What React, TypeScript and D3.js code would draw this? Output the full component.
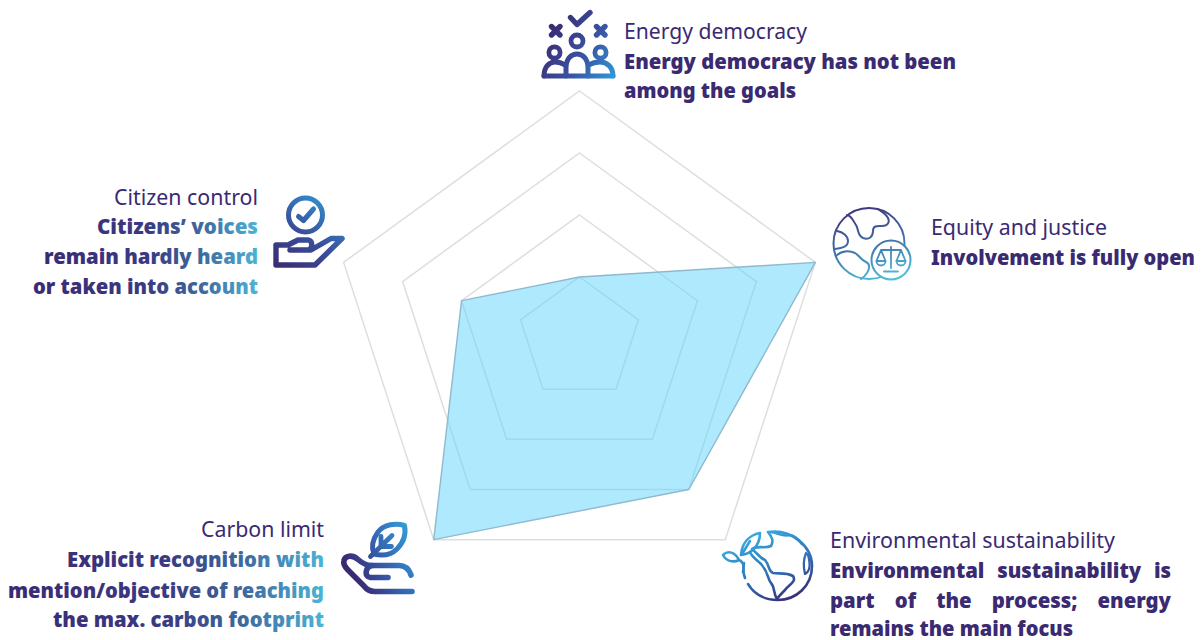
import React from "react";
import * as d3 from "d3";

const axes = [
  "Energy democracy",
  "Equity and justice",
  "Environmental sustainability",
  "Carbon limit",
  "Citizen control",
];
const scores = [1, 4, 3, 4, 2];
const levels = [1, 2, 3, 4];

const WIDTH = 1201;
const HEIGHT = 640;
const CX = 579.5;
const CY = 339;
const INK = "#3a2a72";

const radius = d3.scaleLinear().domain([0, 4]).range([0, 248]);
const angle = d3
  .scalePoint<string>()
  .domain(axes)
  .range([0, (2 * Math.PI * 4) / 5]);

const radar = d3
  .lineRadial<[string, number]>()
  .angle((d) => angle(d[0]) as number)
  .radius((d) => radius(d[1]))
  .curve(d3.curveLinearClosed);

type Line = { text: string; x: number; y: number; width: number; justify?: boolean };

const headings: Line[] = [
  { text: "Energy democracy", x: 624, y: 39, width: 183 },
  { text: "Equity and justice", x: 931, y: 235, width: 176 },
  { text: "Environmental sustainability", x: 830, y: 548, width: 285 },
];
const leftHeadings: Line[] = [
  { text: "Citizen control", x: 258, y: 205, width: 144 },
  { text: "Carbon limit", x: 324, y: 537, width: 123 },
];
const notes: Line[] = [
  { text: "Energy democracy has not been", x: 624, y: 69, width: 332 },
  { text: "among the goals", x: 624, y: 98, width: 172 },
  { text: "Involvement is fully open", x: 931, y: 265, width: 264 },
  { text: "Environmental sustainability is", x: 830, y: 578, width: 341, justify: true },
  { text: "part of the process; energy", x: 830, y: 608, width: 341, justify: true },
  { text: "remains the main focus", x: 830, y: 636, width: 243 },
];
const citizenNotes: Line[] = [
  { text: "Citizens’ voices", x: 258, y: 234, width: 161 },
  { text: "remain hardly heard", x: 258, y: 264, width: 214 },
  { text: "or taken into account", x: 258, y: 294, width: 225 },
];
const carbonNotes: Line[] = [
  { text: "Explicit recognition with", x: 324, y: 567, width: 257 },
  { text: "mention/objective of reaching", x: 324, y: 598, width: 316 },
  { text: "the max. carbon footprint", x: 324, y: 627, width: 271 },
];

const textStops = [
  { offset: "0%", color: "#3a2a72" },
  { offset: "50%", color: "#393a82" },
  { offset: "75%", color: "#3e6a9e" },
  { offset: "100%", color: "#4cb4d6" },
];

type Stop = { offset: string; color: string };

function Gradient(props: { id: string; x1: number; y1: number; x2: number; y2: number; stops?: Stop[] }) {
  const { id, x1, y1, x2, y2, stops = textStops } = props;
  return (
    <linearGradient id={id} gradientUnits="userSpaceOnUse" x1={x1} y1={y1} x2={x2} y2={y2}>
      {stops.map((s) => (
        <stop key={s.offset} offset={s.offset} stopColor={s.color} />
      ))}
    </linearGradient>
  );
}

const bodyFont = "'Noto Sans', Lato, sans-serif";
const HEADING_SIZE = 22;
const NOTE_SIZE = 21.5;
const JUSTIFY_SQUEEZE = 0.945;

function Heading({ line, anchor }: { line: Line; anchor: "start" | "end" }) {
  return (
    <text
      x={line.x}
      y={line.y}
      fontFamily={bodyFont}
      fontSize={HEADING_SIZE}
      fontWeight={400}
      fill={INK}
      textAnchor={anchor}
      textLength={line.width}
      lengthAdjust="spacingAndGlyphs"
    >
      {line.text}
    </text>
  );
}

function Note({ line, fill, anchor }: { line: Line; fill: string; anchor: "start" | "end" }) {
  return (
    <text
      x={line.x}
      y={line.y}
      fontFamily={bodyFont}
      fontSize={NOTE_SIZE}
      fontWeight={900}
      fill={fill}
      textAnchor={anchor}
      textLength={line.width}
      lengthAdjust="spacingAndGlyphs"
    >
      {line.text}
    </text>
  );
}

// A justified row: glyphs are narrowed slightly and the gaps between words
// stretch so the row fills its measure.
function JustifiedNote({ line, fill }: { line: Line; fill: string }) {
  const ref = React.useRef<SVGTextElement>(null);
  React.useLayoutEffect(() => {
    const node = ref.current;
    if (!node) return;
    node.removeAttribute("word-spacing");
    const natural = node.getComputedTextLength();
    const gaps = line.text.split(" ").length - 1;
    node.setAttribute("word-spacing", String((line.width / JUSTIFY_SQUEEZE - natural) / gaps));
  }, [line]);
  return (
    <text
      ref={ref}
      transform={`translate(${line.x},${line.y}) scale(${JUSTIFY_SQUEEZE},1)`}
      fontFamily={bodyFont}
      fontSize={NOTE_SIZE}
      fontWeight={900}
      fill={fill}
    >
      {line.text}
    </text>
  );
}

function DemocracyIcon() {
  return (
    <g fill="none" stroke="url(#iconDemocracy)" strokeWidth={5} strokeLinecap="round" strokeLinejoin="round">
      <path d="M570.5 17.5L577 24.5L590 12.5" strokeWidth={5.4} />
      <path d="M551.5 26.5L560 35M560 26.5L551.5 35" strokeWidth={5.4} />
      <path d="M596.5 26.5L605 35M605 26.5L596.5 35" strokeWidth={5.4} />
      <circle cx={577} cy={41} r={6} strokeWidth={4.8} />
      <circle cx={554.5} cy={52.5} r={5.6} strokeWidth={4.8} />
      <circle cx={600.5} cy={52.5} r={5.6} strokeWidth={4.8} />
      <path d="M544 76H613" />
      <path d="M544 76C544 67 549 62 555 62C559 62 562 63 565 65" />
      <path d="M613 76C613 67 607 62 600 62C596 62 592 63 589 65" />
      <path d="M566 76V68C566 59 571 54 577 54C583 54 588 59 588 68V76" />
    </g>
  );
}

function CitizenIcon() {
  return (
    <g fill="none" stroke="url(#iconCitizen)" strokeLinecap="round" strokeLinejoin="round">
      <circle cx={305.5} cy={215} r={17} strokeWidth={5} />
      <path d="M298.5 216.5L303.5 220.5L313.5 209" strokeWidth={5} />
      <path
        d="M276 245V265H315L342 238.5H331L311 250H290M276 245H288L298 240H308C313 240 313 249 308 250"
        strokeWidth={5.4}
      />
    </g>
  );
}

function CarbonIcon() {
  return (
    <g fill="none" stroke="url(#iconCarbon)" strokeLinecap="round" strokeLinejoin="round">
      <path
        d="M404.5 525.5C396 523 384 524 378 532C373 539 371 547 374 554C382 556 391 555 397 549C405 541 406 533 404.5 525.5Z"
        strokeWidth={5}
      />
      <path d="M370.5 556.5L392 535.5M381 546V536.5M381 546.5H391.5" strokeWidth={4.8} />
      <path
        d="M411 575C409 569 405 565.5 399 565.5H372C366 565.5 362 563 358 559.5C352 554 345 556 344 560.5C343 564 345 567 348 570L364 586C367 590 370 591.5 375 591.5H412"
        strokeWidth={5.6}
      />
      <path d="M372 565.5C365 567 364 577 370.5 577.5H388" strokeWidth={5.6} />
    </g>
  );
}

function EquityIcon() {
  return (
    <g fill="none" stroke="url(#iconEquity)" strokeWidth={2} strokeLinecap="round" strokeLinejoin="round">
      <circle cx={869} cy={243.5} r={35.5} />
      <path d="M847 215C852 216 853 221 856 225C859 230 857 235 863 238C869 240 873 237 873 231C873 225 878 226 882 226C888 226 890 222 888 218C886 214 882 212 878 209" />
      <path d="M837 231C843 232 848 236 848 241C848 247 842 248 835 249" />
      <path d="M836 256C841 251 849 250 855 253C860 256 861 260 866 262C871 264 869 270 867 273C865 276 863 278 861 279" />
      <circle cx={891} cy={260} r={19.5} fill="#fff" />
      <path d="M891 247V268M884 271.5H898M881 250H901M881 250L876.5 261H885.5ZM901 250L896.5 261H905.5Z" strokeWidth={1.8} />
      <path d="M876.5 261C876.5 267 885.5 267 885.5 261M896.5 261C896.5 267 905.5 267 905.5 261" strokeWidth={1.8} />
    </g>
  );
}

function SustainabilityIcon() {
  return (
    <g fill="none" stroke="url(#iconSustain)" strokeWidth={2.6} strokeLinecap="round" strokeLinejoin="round">
      <path d="M769 532C791 529 812 546 812 566C812 586 796 600 778 600C765 600 754 594 748 584" />
      <path d="M745 578C743 573 743 568 744 563" />
      <path d="M760 533C750 535 742 542 741 555C750 554 760 547 760 533Z" />
      <path d="M723 555C728 550 735 552 739 560C733 563 726 561 723 555Z" />
      <path d="M739 560C744 562 744 568 743 572M742 554L750 541" />
      <path d="M768 532C772 537 774 541 771 546C765 549 757 545 752 549C757 553 760 558 765 560C770 566 768 571 773 573C779 574 786 572 793 576C797 582 788 585 785 590C781 594 778 597 777 599C773 593 775 587 771 583C767 578 769 573 761 564C757 560 752 557 750 552" />
      <path d="M771 532C778 533 783 537 790 535C795 536 799 540 802 544" />
      <path d="M806 553C804 558 803 566 805 574C809 572 811 566 808 555Z" strokeWidth={2.2} />
    </g>
  );
}

export default function App() {
  return (
    <svg
      width={WIDTH}
      height={HEIGHT}
      viewBox={`0 0 ${WIDTH} ${HEIGHT}`}
      style={{ position: "absolute", left: 0, top: 0, background: "#fff" }}
    >
      <defs>
        <Gradient id="textCitizen" x1={35} y1={0} x2={258} y2={0} />
        <Gradient id="textCarbon" x1={8} y1={0} x2={324} y2={0} />
        <Gradient id="iconDemocracy" x1={545} y1={35} x2={615} y2={80} stops={[
          { offset: "0%", color: "#3a2a72" },
          { offset: "55%", color: "#3a55a4" },
          { offset: "100%", color: "#2f9dd9" },
        ]} />
        <Gradient id="iconCitizen" x1={276} y1={268} x2={325} y2={195} stops={[
          { offset: "0%", color: "#3a2a72" },
          { offset: "50%", color: "#3a4f9c" },
          { offset: "100%", color: "#2f95d2" },
        ]} />
        <Gradient id="iconCarbon" x1={345} y1={560} x2={410} y2={525} stops={[
          { offset: "0%", color: "#3a2a72" },
          { offset: "45%", color: "#3560ae" },
          { offset: "100%", color: "#33a0da" },
        ]} />
        <Gradient id="iconEquity" x1={860} y1={205} x2={880} y2={282} stops={[
          { offset: "0%", color: "#40307a" },
          { offset: "50%", color: "#3f6fa8" },
          { offset: "100%", color: "#4fc0dc" },
        ]} />
        <Gradient id="iconSustain" x1={760} y1={535} x2={790} y2={602} stops={[
          { offset: "0%", color: "#36a6dc" },
          { offset: "55%", color: "#2f6db4" },
          { offset: "100%", color: "#3a2a72" },
        ]} />
      </defs>

      <g transform={`translate(${CX},${CY})`}>
        {levels.map((level) => (
          <path
            key={level}
            d={radar(axes.map((a) => [a, level] as [string, number])) as string}
            fill="none"
            stroke="#dedede"
            strokeWidth={1.5}
          />
        ))}
        <path
          d={radar(axes.map((a, i) => [a, scores[i]] as [string, number])) as string}
          fill="#5dd3fd"
          fillOpacity={0.5}
          stroke="#8fb9cf"
          strokeWidth={1.4}
          strokeLinejoin="round"
        />
      </g>

      {headings.map((l) => (
        <Heading key={l.text} line={l} anchor="start" />
      ))}
      {leftHeadings.map((l) => (
        <Heading key={l.text} line={l} anchor="end" />
      ))}
      {notes.map((l) =>
        l.justify ? (
          <JustifiedNote key={l.text} line={l} fill={INK} />
        ) : (
          <Note key={l.text} line={l} fill={INK} anchor="start" />
        )
      )}
      {citizenNotes.map((l) => (
        <Note key={l.text} line={l} fill="url(#textCitizen)" anchor="end" />
      ))}
      {carbonNotes.map((l) => (
        <Note key={l.text} line={l} fill="url(#textCarbon)" anchor="end" />
      ))}

      <DemocracyIcon />
      <CitizenIcon />
      <EquityIcon />
      <CarbonIcon />
      <SustainabilityIcon />
    </svg>
  );
}
